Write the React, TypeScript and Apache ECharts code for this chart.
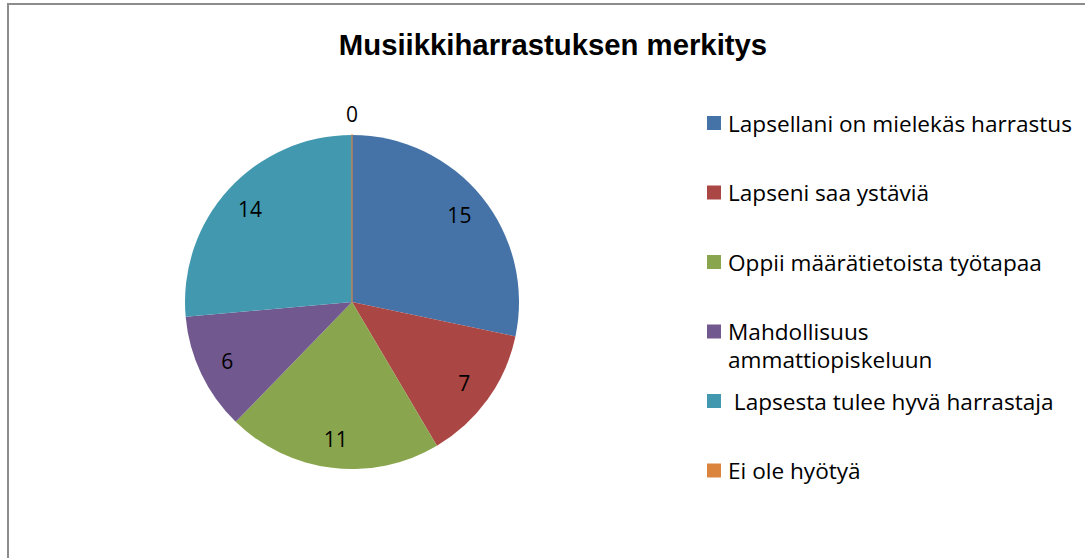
import React, { useEffect, useRef } from "react";
import * as echarts from "echarts";

const titleText = "Musiikkiharrastuksen merkitys";
const categories = [
  "Lapsellani on mielekäs harrastus",
  "Lapseni saa ystäviä",
  "Oppii määrätietoista työtapaa",
  "Mahdollisuus\nammattiopiskeluun",
  " Lapsesta tulee hyvä harrastaja",
  "Ei ole hyötyä",
];
const values = [15, 7, 11, 6, 14, 0];
const colors = ["#4572A7", "#AA4643", "#89A54E", "#71588F", "#4198AF", "#DB843D"];

const CX = 352;
const CY = 302;
const R = 167;
const LABEL_FONT = "'Open Sans', Lato, sans-serif";

export default function App() {
  const ref = useRef<HTMLDivElement>(null);
  useEffect(() => {
    if (!ref.current) return;
    const chart = echarts.init(ref.current, undefined, { renderer: "svg" });

    const legendTop = 123;
    const legendStep = 69.5;
    const legendGraphics: any[] = categories.map((name, i) => ({
      type: "group",
      x: 707,
      y: legendTop + i * legendStep,
      children: [
        { type: "rect", shape: { x: 0, y: -7, width: 14, height: 14 }, style: { fill: colors[i] } },
        {
          type: "text",
          x: 21,
          y: -14,
          style: {
            text: name,
            font: `22.6px ${LABEL_FONT}`,
            fill: "#000",
            verticalAlign: "top",
            align: "left",
            lineHeight: 28,
          },
        },
      ],
    }));

    const baseData = categories.map((name, i) => ({
      name,
      value: values[i],
      itemStyle: {
        color: colors[i],
        borderColor: values[i] === 0 ? "#B8845A" : colors[i],
        borderWidth: values[i] === 0 ? 1.5 : 0,
      },
    }));

    const labelStyle = {
      show: true,
      position: "inside",
      formatter: "{c}",
      fontFamily: LABEL_FONT,
      fontSize: 21,
      color: "#000",
    };

    const option: any = {
      animation: false,
      backgroundColor: "#fff",
      title: {
        text: titleText,
        left: 548,
        top: 25,
        textAlign: "center",
        textStyle: {
          fontFamily: "'Liberation Sans', Arial, sans-serif",
          fontWeight: "bold",
          fontSize: 29.3,
          color: "#000",
        },
      },
      graphic: [
        {
          type: "rect",
          shape: { x: 8, y: 4, width: 1200, height: 700 },
          style: { fill: "none", stroke: "#8c8c8c", lineWidth: 2 },
          z: 100,
        },
        ...legendGraphics,
      ],
      series: [
        {
          type: "pie",
          center: [CX, CY],
          radius: R,
          startAngle: 90,
          clockwise: true,
          avoidLabelOverlap: false,
          silent: true,
          label: { show: false },
          labelLine: { show: false },
          data: baseData,
        },
        {
          type: "pie",
          center: [CX, CY],
          radius: R * 0.81 * 2,
          startAngle: 90,
          clockwise: true,
          avoidLabelOverlap: false,
          silent: true,
          itemStyle: { color: "transparent", borderWidth: 0 },
          labelLine: { show: false },
          label: labelStyle,
          data: categories.map((name, i) => ({
            name,
            value: values[i],
            label: { show: values[i] !== 0 },
          })),
        },
        {
          type: "pie",
          center: [CX, CY],
          radius: 185 * 2,
          startAngle: 90,
          clockwise: true,
          avoidLabelOverlap: false,
          silent: true,
          itemStyle: { color: "transparent", borderWidth: 0 },
          labelLine: { show: false },
          label: labelStyle,
          data: categories.map((name, i) => ({
            name,
            value: values[i],
            label: { show: values[i] === 0 },
          })),
        },
      ],
    };
    chart.setOption(option);
    return () => chart.dispose();
  }, []);
  return (
    <div
      ref={ref}
      style={{ position: "absolute", left: 0, top: 0, width: 1085, height: 558 }}
    />
  );
}
